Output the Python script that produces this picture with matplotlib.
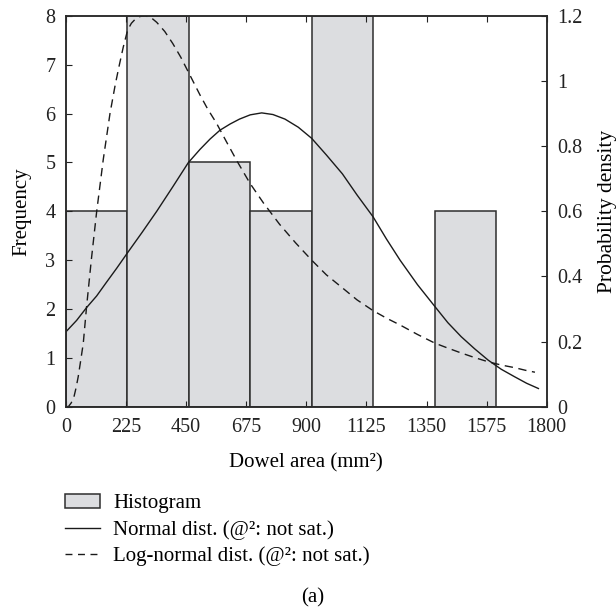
import numpy as np
import matplotlib
matplotlib.use('Agg')
import matplotlib.pyplot as plt
from matplotlib.patches import Patch
from matplotlib.lines import Line2D

plt.rcParams['font.family'] = ['Liberation Serif', 'DejaVu Serif']
plt.rcParams['font.size'] = 15

# histogram (bins of 230 mm2)
bin_edges = [0, 230, 460, 690, 920, 1150, 1380, 1610]
counts = [4, 8, 5, 4, 8, 0, 4]

# fitted curves (density axis)
normal_x = [0, 40, 77, 115, 150, 190, 231, 285, 340, 400, 458, 502, 540, 577, 615,
            650, 690, 733, 775, 820, 870, 920, 975, 1035, 1090, 1150, 1200, 1251,
            1316, 1382, 1430, 1480, 1530, 1581, 1630, 1680, 1725, 1769]
normal_y = [0.230, 0.265, 0.304, 0.340, 0.380, 0.425, 0.473, 0.535, 0.600, 0.675,
            0.749, 0.790, 0.822, 0.849, 0.868, 0.883, 0.896, 0.902, 0.897, 0.883,
            0.858, 0.824, 0.773, 0.715, 0.650, 0.583, 0.515, 0.450, 0.375, 0.307,
            0.258, 0.215, 0.178, 0.143, 0.115, 0.092, 0.072, 0.056]

lognorm_x = [0, 10, 20, 30, 38, 46, 55, 65, 77, 95, 115, 140, 165, 185, 200, 215,
             231, 245, 260, 278, 296, 318, 340, 370, 400, 430, 458, 502, 530, 564,
             600, 640, 689, 740, 800, 860, 920, 975, 1035, 1090, 1150, 1200, 1251,
             1316, 1382, 1430, 1480, 1530, 1581, 1630, 1680, 1720, 1756]
lognorm_y = [0.0, 0.001, 0.012, 0.030, 0.058, 0.092, 0.140, 0.195, 0.304, 0.450,
             0.598, 0.760, 0.900, 0.990, 1.049, 1.105, 1.156, 1.177, 1.190, 1.198,
             1.200, 1.195, 1.180, 1.152, 1.115, 1.073, 1.028, 0.957, 0.915, 0.870,
             0.815, 0.755, 0.686, 0.625, 0.560, 0.503, 0.450, 0.405, 0.365, 0.328,
             0.295, 0.272, 0.251, 0.222, 0.195, 0.180, 0.165, 0.151, 0.138, 0.128,
             0.120, 0.112, 0.106]

x_ticks = [0, 225, 450, 675, 900, 1125, 1350, 1575, 1800]
freq_ticks = [0, 1, 2, 3, 4, 5, 6, 7, 8]
dens_ticks = [0, 0.2, 0.4, 0.6, 0.8, 1.0, 1.2]
dens_labels = ['0', '0.2', '0.4', '0.6', '0.8', '1', '1.2']

bar_face = '#dcdde0'
edge = '#2e2e2e'
ink = '#1a1a1a'

fig = plt.figure(figsize=(6.16, 6.08), dpi=100)
ax = fig.add_axes([0.107, 0.331, 0.7805, 0.643])

ax.bar(bin_edges[:-1], counts, width=np.diff(bin_edges), align='edge',
       facecolor=bar_face, edgecolor=edge, linewidth=1.1)
ax.set_xlim(0, 1800)
ax.set_ylim(0, 8)
ax.set_xticks(x_ticks)
ax.set_yticks(freq_ticks)
ax.set_ylabel('Frequency', labelpad=10)
ax.set_xlabel('Dowel area (mm²)', labelpad=11.5)
ax.tick_params(direction='in', length=4, top=True, labelsize=14.5, colors='#222222')
ax.tick_params(axis='y', pad=7.5)
ax.tick_params(axis='x', pad=8)

ax2 = ax.twinx()
ax2.plot(normal_x, normal_y, color=ink, linewidth=1.0)
ax2.plot(lognorm_x, lognorm_y, color=ink, linewidth=1.0, dashes=(6, 4))
ax2.set_ylim(0, 1.2)
ax2.set_yticks(dens_ticks)
ax2.set_yticklabels(dens_labels)
ax2.set_ylabel('Probability density', fontsize=15.5, labelpad=11)
ax2.tick_params(direction='in', length=4, labelsize=14.5, pad=7.5, colors='#222222')

for a in (ax, ax2):
    for s in a.spines.values():
        s.set_linewidth(1.1)
        s.set_color('#2a2a2a')

handles = [Patch(facecolor=bar_face, edgecolor=edge, linewidth=1.1),
           Line2D([], [], color=ink, linewidth=1.0),
           Line2D([], [], color=ink, linewidth=1.0, dashes=(5, 4))]
labels = ['Histogram',
          'Normal dist. (@²: not sat.)',
          'Log-normal dist. (@²: not sat.)']
fig.legend(handles, labels, loc='upper left', bbox_to_anchor=(0.1055, 0.188),
           frameon=False, borderpad=0, borderaxespad=0, handlelength=1.68,
           handletextpad=0.62, labelspacing=0.33)

fig.text(0.508, 0.017, '(a)', ha='center', va='center')

fig.savefig('out.png', dpi=100)
